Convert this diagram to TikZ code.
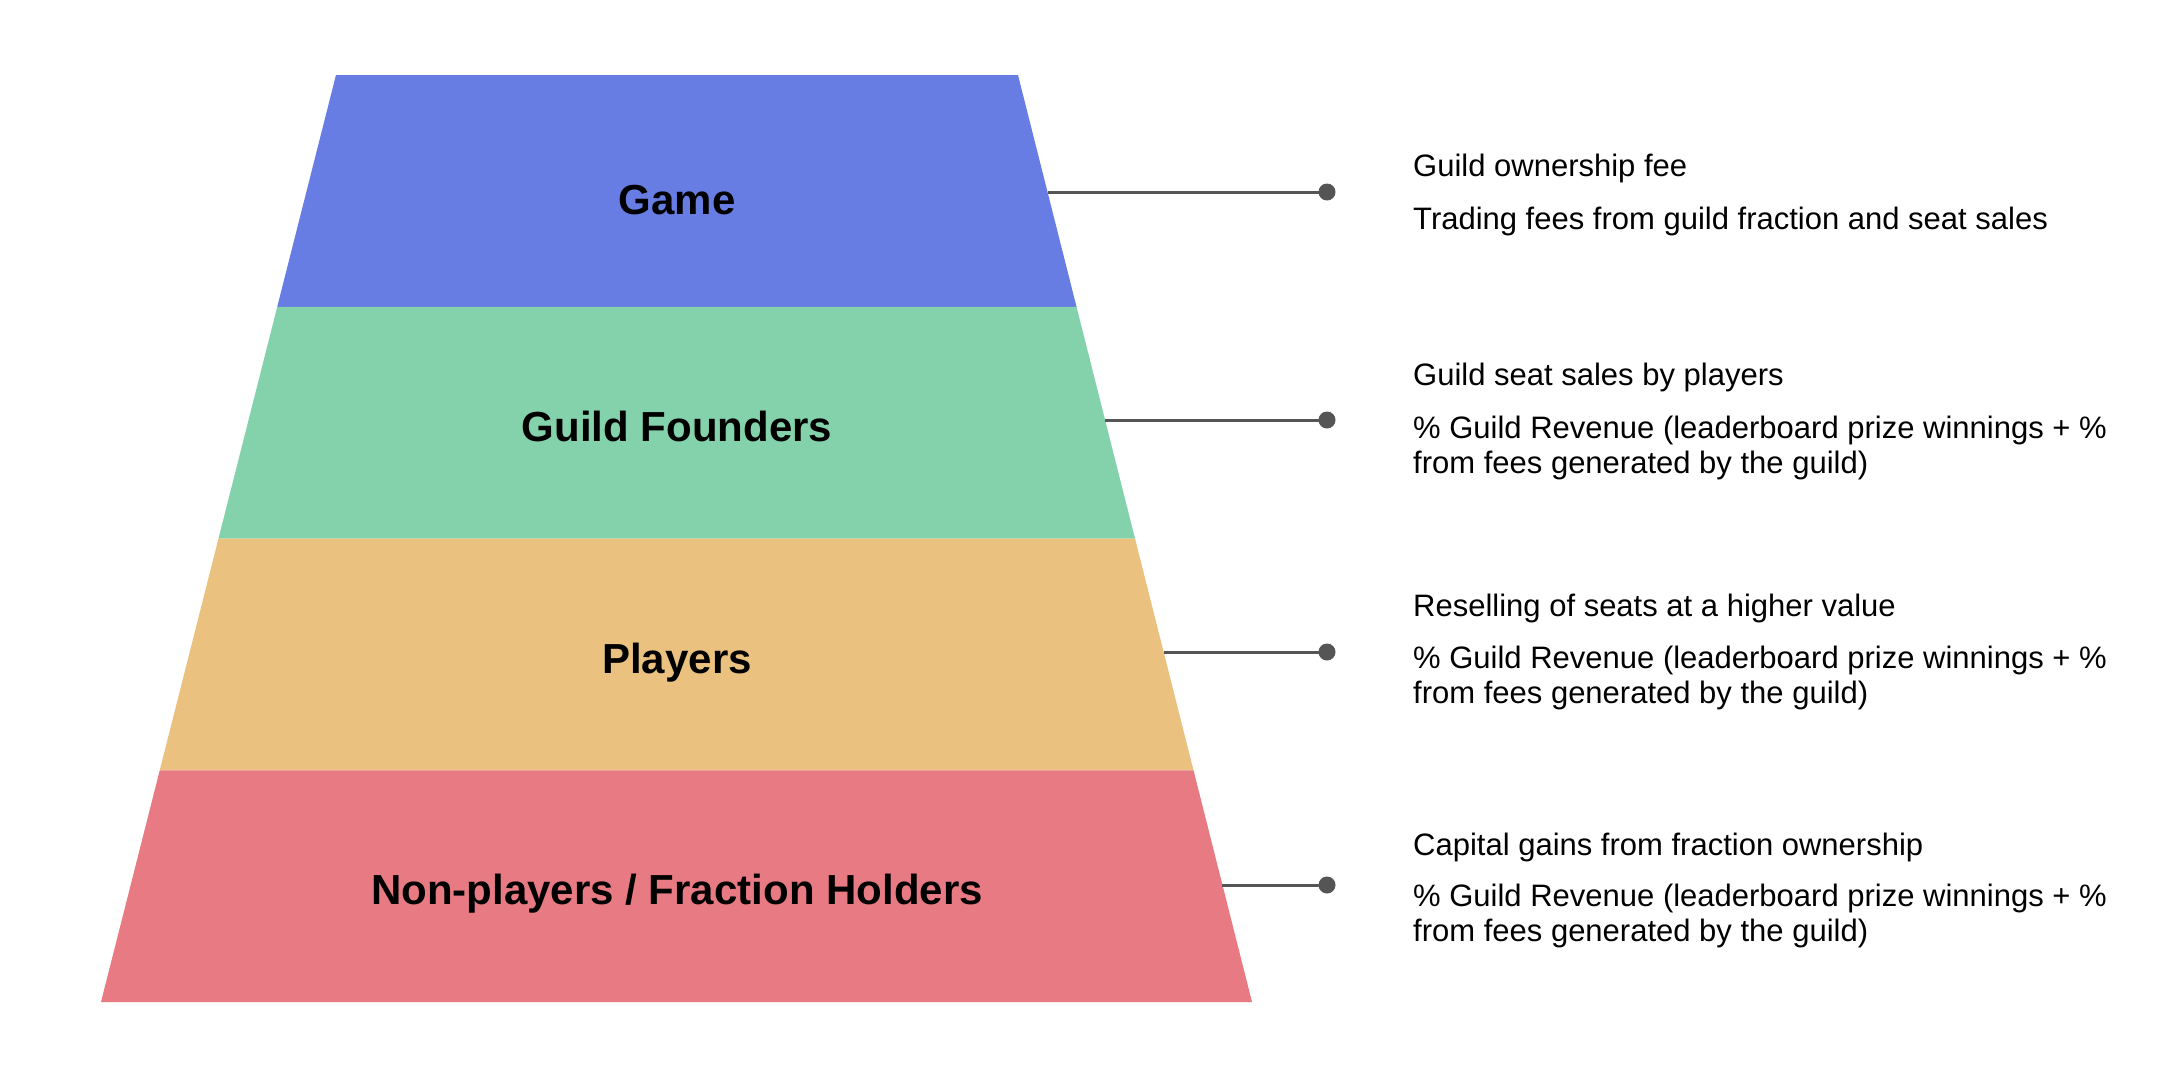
\documentclass[tikz,border=0pt]{standalone}
\usepackage{fontspec}
\setmainfont{Liberation Sans}
\definecolor{bandA}{RGB}{103,125,227}
\definecolor{bandB}{RGB}{132,210,172}
\definecolor{bandC}{RGB}{235,193,127}
\definecolor{bandD}{RGB}{232,122,131}
\definecolor{linkgray}{RGB}{85,85,85}
\tikzset{
  tierlabel/.style={anchor=base, inner sep=0pt, font=\fontsize{42}{50}\selectfont\bfseries},
  note/.style={anchor=base west, inner sep=0pt, font=\fontsize{31}{35}\selectfont, align=left},
  link/.style={draw=linkgray, line width=3pt},
  dotnode/.style={circle, fill=linkgray, inner sep=0pt, minimum size=17pt}
}
\begin{document}
\begin{tikzpicture}[x=1pt,y=-1pt]
\useasboundingbox (0,0) rectangle (2178,1066);
\fill[white] (0,0) rectangle (2178,1066);
% bands
\fill[bandA] (336,75) -- (1018,75) -- (1076.5,306.75) -- (277.25,306.75) -- cycle;
\fill[bandB] (277.25,306.75) -- (1076.5,306.75) -- (1135,538.5) -- (218.5,538.5) -- cycle;
\fill[bandC] (218.5,538.5) -- (1135,538.5) -- (1193.5,770.25) -- (159.75,770.25) -- cycle;
\fill[bandD] (159.75,770.25) -- (1193.5,770.25) -- (1252,1002) -- (101,1002) -- cycle;
% tier labels
\node[tierlabel] (game) at (677,214) {Game};
\node[tierlabel] (founders) at (677,441) {Guild Founders};
\node[tierlabel] (players) at (677,673) {Players};
\node[tierlabel] (holders) at (677,904) {Non-players / Fraction Holders};
% connector ends
\coordinate (eA) at (1047.5,192);
\coordinate (eB) at (1105,420);
\coordinate (eC) at (1163.6,652);
\coordinate (eD) at (1222.4,885);
\node[dotnode] (dA) at (1327,192) {};
\node[dotnode] (dB) at (1327,420) {};
\node[dotnode] (dC) at (1327,652) {};
\node[dotnode] (dD) at (1327,885) {};
\draw[link] (eA) -- (dA.center);
\draw[link] (eB) -- (dB.center);
\draw[link] (eC) -- (dC.center);
\draw[link] (eD) -- (dD.center);
% notes (multi-line notes are anchored at the baseline of their last line)
\node[note] (nA1) at (1413,176) {Guild ownership fee};
\node[note] (nA2) at (1413,229) {Trading fees from guild fraction and seat sales};
\node[note] (nB1) at (1413,385) {Guild seat sales by players};
\node[note] (nB2) at (1413,473) {\% Guild Revenue (leaderboard prize winnings + \%\\from fees generated by the guild)};
\node[note] (nC1) at (1413,616) {Reselling of seats at a higher value};
\node[note] (nC2) at (1413,703) {\% Guild Revenue (leaderboard prize winnings + \%\\from fees generated by the guild)};
\node[note] (nD1) at (1413,855) {Capital gains from fraction ownership};
\node[note] (nD2) at (1413,941) {\% Guild Revenue (leaderboard prize winnings + \%\\from fees generated by the guild)};
\end{tikzpicture}
\end{document}
